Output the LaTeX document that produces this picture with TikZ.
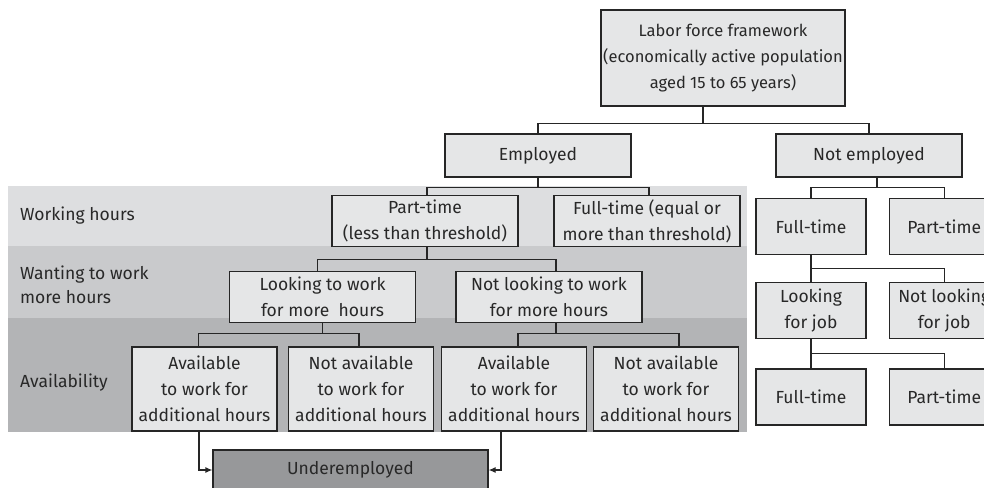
\documentclass[tikz,border=0pt]{standalone}
\usepackage{fontspec}
\setmainfont{Fira Sans}
\usetikzlibrary{positioning,arrows.meta}

\definecolor{boxfill}{RGB}{229,230,231}
\definecolor{bandone}{RGB}{221,222,224}
\definecolor{bandtwo}{RGB}{201,202,204}
\definecolor{bandthree}{RGB}{179,180,182}
\definecolor{underfill}{RGB}{151,152,154}
\definecolor{inkgray}{RGB}{40,40,40}

\begin{document}
\begin{tikzpicture}[x=1pt,y=-1pt,
        box/.style={draw=black!85, fill=boxfill, line width=1.2pt, align=center, inner sep=0pt, text=inkgray, font=\fontsize{17.5}{26}\selectfont},
        wide/.style={box, minimum width=186pt, minimum height=43pt},
        hours/.style={box, minimum width=186pt, minimum height=51pt},
        avail/.style={box, minimum width=145pt, minimum height=84pt},
        side/.style={box, minimum width=110pt, minimum height=56pt},
        rowlabel/.style={anchor=west, align=left, inner sep=0pt, text=inkgray, font=\fontsize{17.5}{24}\selectfont},
        link/.style={draw=black!85, line width=1.2pt}
    ]
    \useasboundingbox (0,0) rectangle (984,487);

    % grey bands behind the employed branch
    \fill[bandone] (8,186) rectangle (747,246);
    \fill[bandtwo] (8,246) rectangle (747,318);
    \fill[bandthree] (8,318) rectangle (747,432);

    \node[rowlabel] (lwork) at (20,216) {Working hours};
    \node[rowlabel] (lwant) at (20,285) {Wanting to work\\more hours};
    \node[rowlabel] (lavail) at (20,383) {Availability};

    \node[box, minimum width=244pt, minimum height=96pt, font=\fontsize{16.5}{26}\selectfont] (labor) at (723,58) {Labor force framework\\(economically active population\\aged 15 to 65 years)};
    \node[wide] (employed) at (538,155.5) {Employed};
    \node[wide] (notemp) at (869,155.5) {Not employed};

    \node[hours] (ptime) at (425,221) {Part-time\\(less than threshold)};
    \node[hours] (ftime) at (647,221) {Full-time (equal or\\more than threshold)};

    \node[hours] (looking) at (322.5,297) {Looking to work\\for more~ hours};
    \node[hours] (notlooking) at (549,297) {Not looking to work\\for more hours};

    \node[avail] (avail1) at (204.5,389) {Available\\to work for\\additional hours};
    \node[avail] (notavail1) at (361,389) {Not available\\to work for\\additional hours};
    \node[avail] (avail2) at (514,389) {Available\\to work for\\additional hours};
    \node[avail] (notavail2) at (666,389) {Not available\\to work for\\additional hours};

    \node[box, fill=underfill, minimum width=275pt, minimum height=40pt] (under) at (350.5,470) {Underemployed};

    % right column
    \node[side] (rft1) at (811,226.5) {Full-time};
    \node[side] (rpt1) [right=22pt of rft1] {Part-time};
    \node[side] (rlook) [below=27pt of rft1] {Looking\\for job};
    \node[side] (rnotlook) [right=22pt of rlook] {Not looking\\for job};
    \node[side] (rft2) [below=29pt of rlook] {Full-time};
    \node[side] (rpt2) [right=22pt of rft2] {Part-time};

    % tree lines
    \draw[link] ([xshift=-20pt]labor.south) -- ++(0,17);
    \draw[link] (employed.north) |- ([xshift=-20pt,yshift=-17pt]labor.south) -| (notemp.north);

    \draw[link] (employed.south) -- ++(0,10);
    \draw[link] ([xshift=2pt]ptime.north) |- ([yshift=-10pt]employed.south) -| ([xshift=2pt]ftime.north);

    \draw[link] ([xshift=2pt]ptime.south) -- ++(0,12);
    \draw[link] ([xshift=-5pt]looking.north) |- ([xshift=2pt,yshift=-12pt]ptime.south) -| ([xshift=7pt]notlooking.north);

    \draw[link] (looking.south) -- ++(0,10);
    \draw[link] ([xshift=-6pt]avail1.north) |- ([yshift=-10pt]looking.south) -| ([xshift=-2pt]notavail1.north);

    \draw[link] ([xshift=7pt]notlooking.south) -- ++(0,10);
    \draw[link] ([xshift=4pt]avail2.north) |- ([xshift=7pt,yshift=-10pt]notlooking.south) -| ([xshift=13pt]notavail2.north);

    \draw[link] ([xshift=8pt]notemp.south) -- ++(0,10);
    \draw[link] (rft1.north) |- ([xshift=8pt,yshift=-10pt]notemp.south) -| (rpt1.north);

    \draw[link] (rft1.south) -- ++(0,13);
    \draw[link] (rlook.north) |- ([yshift=-13pt]rft1.south) -| (rnotlook.north);

    \draw[link] (rlook.south) -- ++(0,14);
    \draw[link] (rft2.north) |- ([yshift=-14pt]rlook.south) -| (rpt2.north);

    % arrows into underemployed
    \draw[link, -{Latex[length=7pt,width=6pt]}] ([xshift=-5.5pt]avail1.south) |- (under.west);
    \draw[link, -{Latex[length=7pt,width=6pt]}] ([xshift=-13pt]avail2.south) |- (under.east);
\end{tikzpicture}
\end{document}
